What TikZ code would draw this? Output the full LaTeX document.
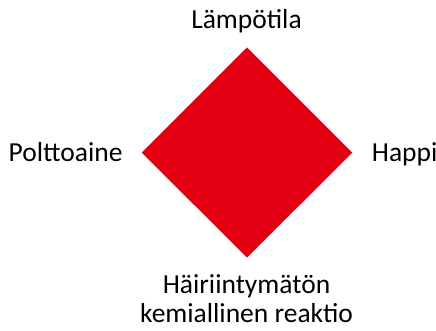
\documentclass[tikz,border=0pt]{standalone}
\usepackage{fontspec}
\setmainfont{Carlito}
\definecolor{firered}{RGB}{227,0,18}
\begin{document}
\begin{tikzpicture}[x=1pt,y=-1pt,
  lbl/.style={inner sep=0pt,font=\fontsize{27.5}{29}\selectfont,text=black}]
\useasboundingbox (0,0) rectangle (436,331);
\coordinate (T) at (247,47.5);
\coordinate (R) at (352.3,152.7);
\coordinate (B) at (247,257.5);
\coordinate (L) at (141.7,152.7);
\fill[firered] (T) -- (R) -- (B) -- (L) -- cycle;
\node[lbl,anchor=base] (temp) at (246.5,29) {Lämpötila};
\node[lbl,anchor=base east] (fuel) at (122.7,161.7) {Polttoaine};
\node[lbl,anchor=base west] (oxy) at (371.7,161.7) {Happi};
\node[lbl,anchor=base] (react1) at (246.5,293) {Häiriintymätön};
\node[lbl,anchor=base] (react2) at (246.5,322) {kemiallinen reaktio};
\end{tikzpicture}
\end{document}
